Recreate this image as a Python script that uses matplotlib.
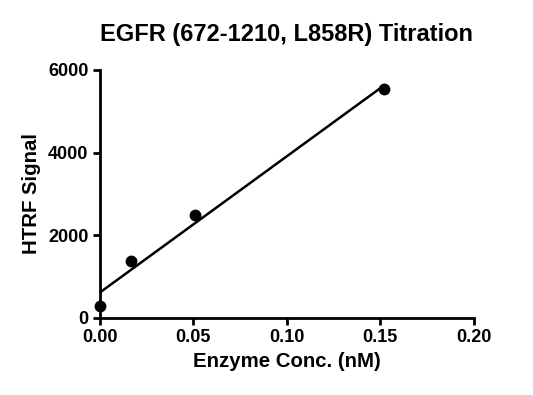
import matplotlib
matplotlib.use("Agg")
import matplotlib.pyplot as plt
import numpy as np

plt.rcParams['font.family'] = ['Liberation Sans', 'DejaVu Sans']
plt.rcParams['font.weight'] = 'bold'

conc = np.array([0.0, 0.0169, 0.0507, 0.152])
signal = np.array([290, 1370, 2500, 5530])
xticks = [0.00, 0.05, 0.10, 0.15, 0.20]
yticks = [0, 2000, 4000, 6000]

slope, icpt = np.polyfit(conc, signal, 1)
xfit = np.array([conc.min(), conc.max()])

fig = plt.figure(figsize=(5.33, 3.95), dpi=100)
ax = fig.add_axes([0.187, 0.195, 0.702, 0.628])

ax.plot(xfit, slope * xfit + icpt, color='black', lw=1.8, zorder=2)
ax.plot(conc, signal, 'o', color='black', ms=7.5, zorder=3, clip_on=False)

ax.set_xlim(0, 0.2)
ax.set_ylim(0, 6000)
ax.set_xticks(xticks)
ax.set_xticklabels(['%.2f' % t for t in xticks])
ax.set_yticks(yticks)

for s in ['top', 'right']:
    ax.spines[s].set_visible(False)
for s in ['left', 'bottom']:
    ax.spines[s].set_linewidth(2)
ax.tick_params(width=2, length=5, labelsize=13, pad=3)

ax.set_xlabel('Enzyme Conc. (nM)', fontsize=14.7, fontweight='bold', labelpad=4)
ax.set_ylabel('HTRF Signal', fontsize=14.7, fontweight='bold', labelpad=5)
ax.set_title('EGFR (672-1210, L858R) Titration', fontsize=17, fontweight='bold', pad=21)

fig.savefig('out.png', dpi=100)
